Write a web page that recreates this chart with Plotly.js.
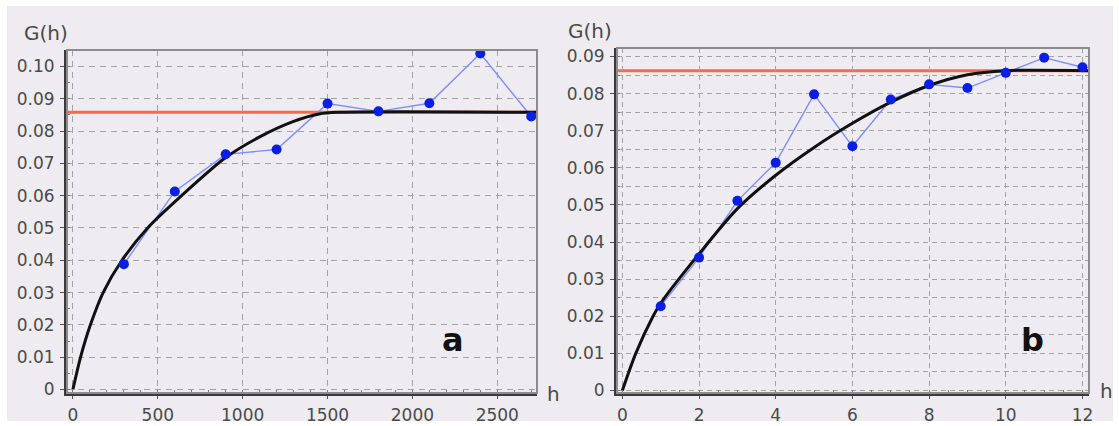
<!DOCTYPE html>
<html>
<head>
<meta charset="utf-8">
<script src="https://cdn.plot.ly/plotly-3.0.1.min.js"></script>
<style>
html,body{margin:0;padding:0;background:#ffffff;}
#chart{width:1119px;height:426px;}
</style>
</head>
<body>
<div id="chart"></div>
<script>
// ---- Panel a : experimental semivariogram ----
const lagA   = [300, 600, 900, 1200, 1500, 1800, 2100, 2400, 2700];
const gammaA = [0.0388, 0.0613, 0.0728, 0.0743, 0.0885, 0.0861, 0.0886, 0.1040, 0.0845];
// fitted model curve
const modelLagA   = [0, 45, 103, 178, 289, 440, 640, 900, 1100, 1300, 1450, 1560, 2734];
const modelGammaA = [0, 0.010, 0.020, 0.030, 0.040, 0.050, 0.060, 0.0718, 0.0782, 0.0830, 0.0853, 0.0858, 0.0858];
const sillA = 0.0858;
const yTickValsA = [0, 0.01, 0.02, 0.03, 0.04, 0.05, 0.06, 0.07, 0.08, 0.09, 0.10];
const yTickTextA = ["0", "0.01", "0.02", "0.03", "0.04", "0.05", "0.06", "0.07", "0.08", "0.09", "0.10"];
const xTickValsA = [0, 500, 1000, 1500, 2000, 2500];

// ---- Panel b ----
const lagB   = [1, 2, 3, 4, 5, 6, 7, 8, 9, 10, 11, 12];
const gammaB = [0.0227, 0.0358, 0.0511, 0.0614, 0.0798, 0.0658, 0.0784, 0.0825, 0.0815, 0.0856, 0.0897, 0.0871];
const modelLagB   = [0, 0.35, 0.8, 1, 2, 3, 4, 5, 6, 7, 8, 9, 10, 12.17];
const modelGammaB = [0, 0.010, 0.020, 0.0235, 0.0368, 0.0490, 0.0580, 0.0655, 0.0720, 0.0777, 0.0822, 0.0851, 0.0862, 0.0862];
const sillB = 0.0862;
const yTickValsB = [0, 0.01, 0.02, 0.03, 0.04, 0.05, 0.06, 0.07, 0.08, 0.09];
const yTickTextB = ["0", "0.01", "0.02", "0.03", "0.04", "0.05", "0.06", "0.07", "0.08", "0.09"];
const xTickValsB = [0, 2, 4, 6, 8, 10, 12];

const W = 1119, H = 426;
const px = v => v / W;
const py = v => 1 - v / H;

const BLUE = '#0a1ee6', LBLUE = '#7f8cff', BLACK = '#111111', RED = '#f8694d';
const tickFont = {family: 'DejaVu Sans, sans-serif', size: 17, color: '#4a4a4a'};
const gridCol = '#a3a3a3';

const traces = [
  {x: lagA, y: gammaA, xaxis: 'x', yaxis: 'y', mode: 'lines', line: {color: LBLUE, width: 1.4}, hoverinfo: 'skip'},
  {x: modelLagA, y: modelGammaA, xaxis: 'x', yaxis: 'y', mode: 'lines', line: {color: BLACK, width: 3, shape: 'spline', smoothing: 0.8}},
  {x: lagA, y: gammaA, xaxis: 'x', yaxis: 'y', mode: 'markers', marker: {color: BLUE, size: 10}},
  {x: lagB, y: gammaB, xaxis: 'x2', yaxis: 'y2', mode: 'lines', line: {color: LBLUE, width: 1.4}, hoverinfo: 'skip'},
  {x: modelLagB, y: modelGammaB, xaxis: 'x2', yaxis: 'y2', mode: 'lines', line: {color: BLACK, width: 3, shape: 'spline', smoothing: 0.8}},
  {x: lagB, y: gammaB, xaxis: 'x2', yaxis: 'y2', mode: 'markers', marker: {color: BLUE, size: 10}}
];

function xAxis(domain, range, tickvals, minorDtick, anchor, dash) {
  return {
    domain: domain, range: range, anchor: anchor,
    tickmode: 'array', tickvals: tickvals,
    ticks: 'outside', ticklen: 3, tickwidth: 1, tickcolor: '#555',
    ticklabelstandoff: 2,
    tickfont: tickFont,
    showgrid: true, gridcolor: gridCol, gridwidth: 1, griddash: dash,
    zeroline: false,
    showline: true, linecolor: '#3a3a3a', linewidth: 3, mirror: false,
    minor: {dtick: minorDtick, ticks: 'inside', ticklen: 3, tickcolor: '#777', showgrid: false},
    fixedrange: true
  };
}
function yAxis(domain, range, tickvals, ticktext, minor, anchor, dash) {
  return {
    domain: domain, range: range, anchor: anchor,
    tickmode: 'array', tickvals: tickvals, ticktext: ticktext,
    ticks: 'outside', ticklen: 4, tickwidth: 1, tickcolor: '#555',
    ticklabelstandoff: 2,
    tickfont: tickFont,
    showgrid: true, gridcolor: gridCol, gridwidth: 1, griddash: dash,
    zeroline: false,
    showline: true, linecolor: '#3a3a3a', linewidth: 3, mirror: false,
    minor: minor,
    fixedrange: true
  };
}

const layout = {
  width: W, height: H,
  margin: {l: 0, r: 0, t: 0, b: 0},
  paper_bgcolor: '#ffffff',
  plot_bgcolor: 'rgba(0,0,0,0)',
  showlegend: false,
  xaxis: xAxis([px(67), px(537)], [-35, 2734], xTickValsA, 100, 'y', '6px,5px'),
  yaxis: yAxis([1 - 393/H, 1 - 50/H], [-0.0011, 0.1051], yTickValsA, yTickTextA,
               {dtick: 0.005, ticks: 'inside', ticklen: 3, tickcolor: '#777', showgrid: false}, 'x', '6px,5px'),
  xaxis2: xAxis([px(617), px(1089)], [-0.14, 12.17], xTickValsB, 0.5, 'y2', '5px,4px'),
  yaxis2: yAxis([1 - 393/H, 1 - 48/H], [-0.0007, 0.0923], yTickValsB, yTickTextB,
               {dtick: 0.005, ticks: 'inside', ticklen: 3, tickcolor: '#777', showgrid: true, gridcolor: gridCol, griddash: '5px,4px'}, 'x2', '5px,4px'),
  shapes: [
    {type: 'rect', xref: 'paper', yref: 'paper', x0: px(7), x1: px(1113), y0: py(421), y1: py(6),
     fillcolor: '#eeecf0', line: {width: 0}, layer: 'below'},
    {type: 'line', xref: 'x domain', yref: 'y', x0: 0, x1: 1, y0: sillA, y1: sillA,
     line: {color: RED, width: 3}, layer: 'below'},
    {type: 'line', xref: 'x2 domain', yref: 'y2', x0: 0, x1: 1, y0: sillB, y1: sillB,
     line: {color: RED, width: 3}, layer: 'below'},
    {type: 'rect', xref: 'x domain', yref: 'y domain', x0: 0, x1: 1, y0: 0, y1: 1,
     line: {color: '#8c8c8c', width: 2}, layer: 'above'},
    {type: 'rect', xref: 'x2 domain', yref: 'y2 domain', x0: 0, x1: 1, y0: 0, y1: 1,
     line: {color: '#8c8c8c', width: 2}, layer: 'above'}
  ],
  annotations: [
    {text: 'G(h)', xref: 'paper', yref: 'paper', x: px(46), y: py(33), xanchor: 'center', yanchor: 'middle',
     showarrow: false, font: {family: 'DejaVu Sans, sans-serif', size: 20, color: '#4a4a4a'}},
    {text: 'G(h)', xref: 'paper', yref: 'paper', x: px(590), y: py(31), xanchor: 'center', yanchor: 'middle',
     showarrow: false, font: {family: 'DejaVu Sans, sans-serif', size: 20, color: '#4a4a4a'}},
    {text: 'h', xref: 'paper', yref: 'paper', x: px(553), y: py(394), xanchor: 'center', yanchor: 'middle',
     showarrow: false, font: {family: 'DejaVu Sans, sans-serif', size: 20, color: '#4a4a4a'}},
    {text: 'h', xref: 'paper', yref: 'paper', x: px(1106), y: py(391), xanchor: 'center', yanchor: 'middle',
     showarrow: false, font: {family: 'DejaVu Sans, sans-serif', size: 20, color: '#4a4a4a'}},
    {text: '<b>a</b>', xref: 'paper', yref: 'paper', x: px(453), y: py(340), xanchor: 'center', yanchor: 'middle',
     showarrow: false, font: {family: 'DejaVu Sans, sans-serif', size: 32, color: '#111'}},
    {text: '<b>b</b>', xref: 'paper', yref: 'paper', x: px(1032), y: py(340), xanchor: 'center', yanchor: 'middle',
     showarrow: false, font: {family: 'DejaVu Sans, sans-serif', size: 32, color: '#111'}}
  ]
};

Plotly.newPlot('chart', traces, layout, {staticPlot: true, displayModeBar: false});
</script>
</body>
</html>
